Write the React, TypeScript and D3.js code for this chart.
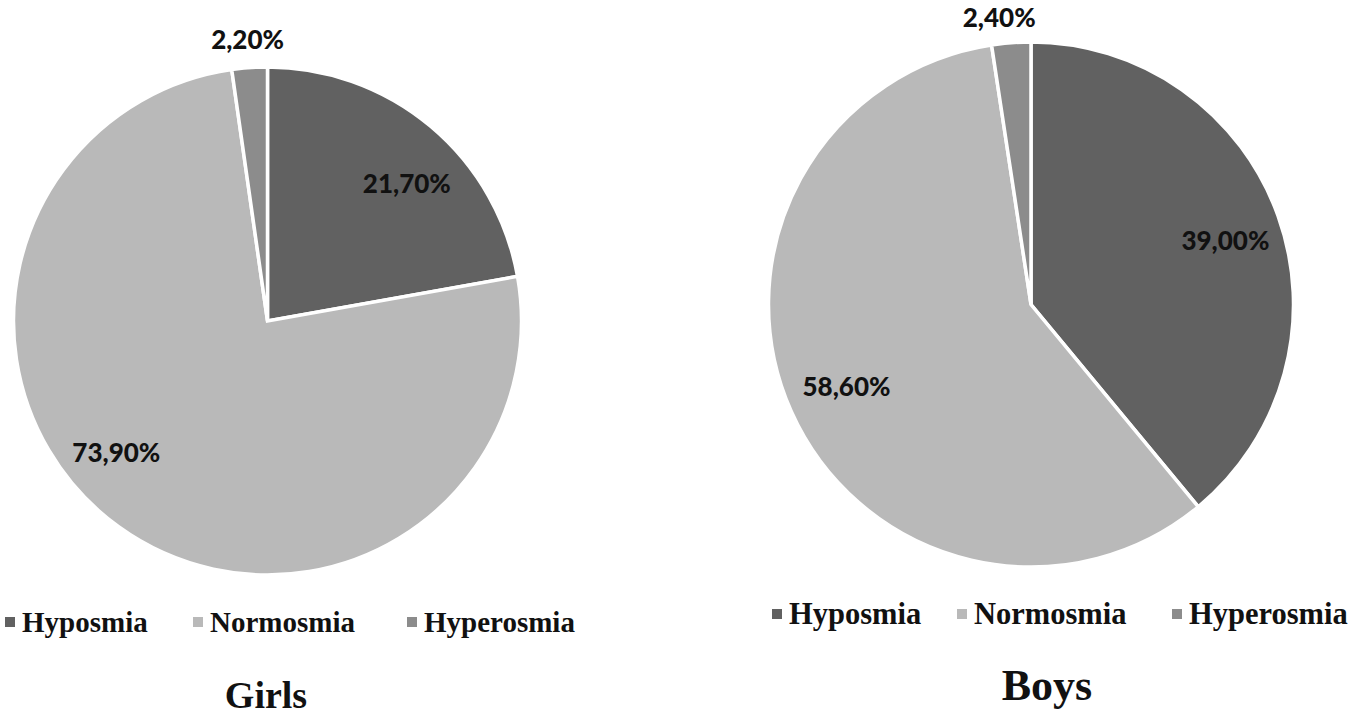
import React, { useRef, useEffect } from "react";
import * as d3 from "d3";

const categories = ["Hyposmia", "Normosmia", "Hyperosmia"];
const girlsValues = [21.7, 73.9, 2.2];
const boysValues = [39.0, 58.6, 2.4];
const girlsLabels = ["21,70%", "73,90%", "2,20%"];
const boysLabels = ["39,00%", "58,60%", "2,40%"];
const colors = ["#616161", "#b9b9b9", "#8c8c8c"];

const W = 1350;
const H = 719;

// layout for each pie (Excel "best fit" label placement, so angles are nudged per slice)
const charts = [
  {
    title: "Girls",
    values: girlsValues,
    labels: girlsLabels,
    cx: 267.5, cy: 321, r: 254,
    labelR: [0.77, 0.79, 1.11],
    labelNudge: [5.5, 13, 0],
    legendX: [22, 210, 424], legendY: 622, legendSize: 29,
    titleX: 266, titleY: 708, titleSize: 38,
  },
  {
    title: "Boys",
    values: boysValues,
    labels: boysLabels,
    cx: 1031, cy: 304.5, r: 262.5,
    labelR: [0.78, 0.77, 1.1],
    labelNudge: [1.5, 0, -2],
    legendX: [789, 974, 1189], legendY: 614, legendSize: 30.5,
    titleX: 1047, titleY: 700, titleSize: 44,
  },
];

const App = () => {
  const svgRef = useRef();

  useEffect(() => {
    const svg = d3.select(svgRef.current);
    svg.selectAll("*").remove();

    const pie = d3.pie().sort(null).value(d => d);

    charts.forEach(c => {
      const g = svg.append("g").attr("transform", `translate(${c.cx},${c.cy})`);
      const arcs = pie(c.values);
      const arc = d3.arc().innerRadius(0).outerRadius(c.r);

      g.selectAll("path")
        .data(arcs)
        .enter()
        .append("path")
        .attr("d", arc)
        .attr("fill", (d, i) => colors[i])
        .attr("stroke", "#fff")
        .attr("stroke-width", 3.5)
        .attr("stroke-linejoin", "miter");

      g.selectAll("text.lbl")
        .data(arcs)
        .enter()
        .append("text")
        .attr("class", "lbl")
        .attr("transform", (d, i) => {
          const a = (d.startAngle + d.endAngle) / 2 + (c.labelNudge[i] * Math.PI) / 180;
          const rr = c.r * c.labelR[i];
          return `translate(${rr * Math.sin(a)},${-rr * Math.cos(a)})`;
        })
        .attr("text-anchor", "middle")
        .attr("dy", "0.36em")
        .attr("font-family", "Lato, 'Open Sans', sans-serif")
        .attr("font-weight", 900)
        .attr("font-size", 26)
        .attr("fill", "#111")
        .text((d, i) => c.labels[i]);

      const legend = svg.append("g");
      categories.forEach((cat, i) => {
        legend.append("rect")
          .attr("x", c.legendX[i] - 17)
          .attr("y", c.legendY - 5)
          .attr("width", 10)
          .attr("height", 10)
          .attr("fill", colors[i]);
        legend.append("text")
          .attr("x", c.legendX[i])
          .attr("y", c.legendY + 9.5)
          .attr("font-family", "'Liberation Serif', 'Times New Roman', serif")
          .attr("font-weight", "bold")
          .attr("font-size", c.legendSize)
          .attr("fill", "#111")
          .text(cat);
      });

      svg.append("text")
        .attr("x", c.titleX)
        .attr("y", c.titleY)
        .attr("text-anchor", "middle")
        .attr("font-family", "'Liberation Serif', 'Times New Roman', serif")
        .attr("font-weight", "bold")
        .attr("font-size", c.titleSize)
        .attr("fill", "#111")
        .text(c.title);
    });
  }, []);

  return (
    <svg
      ref={svgRef}
      width={W}
      height={H}
      style={{ position: "absolute", left: 0, top: 0, background: "#fff" }}
    ></svg>
  );
};

export default App;
